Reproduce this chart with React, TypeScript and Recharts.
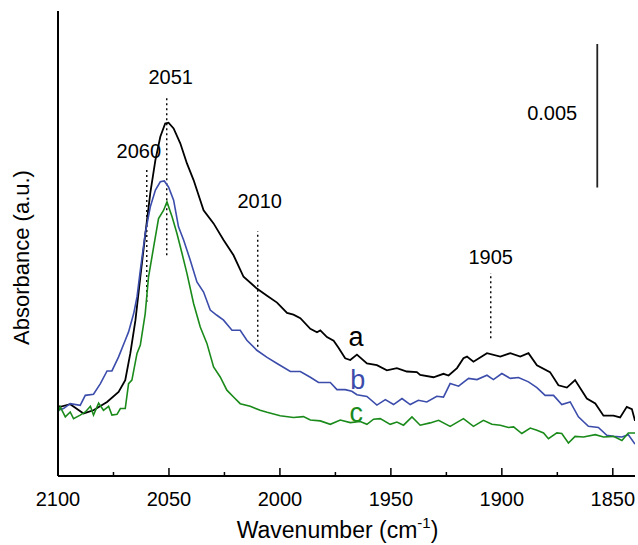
import React from 'react';
import { LineChart, Line, XAxis, YAxis, ReferenceLine, ReferenceDot } from 'recharts';

// Spectra: wavenumber (cm-1) and absorbance in units of 1e-3
const waveA = [
  2100, 2099.0, 2094.5, 2088.5, 2084.0, 2077.9, 2072.7, 2069.7, 2067.4, 2065.1,
  2062.9, 2060.6, 2058.4, 2056.1, 2053.9, 2051.7, 2050.2, 2047.9, 2044.9, 2041.9,
  2038.9, 2034.4, 2029.9, 2025.4, 2020.9, 2016.4, 2010.4, 2005.8, 2001.3, 1996.8,
  1993.9, 1990.8, 1986.3, 1983.3, 1981.8, 1978.8, 1975.8, 1973.6, 1970.6, 1968.3,
  1965.3, 1960.8, 1956.3, 1951.8, 1947.3, 1942.8, 1938.3, 1936.8, 1930.8, 1926.3,
  1924.0, 1920.2, 1917.3, 1915.7, 1912.8, 1906.7, 1900.7, 1896.2, 1891.7, 1888.0,
  1884.2, 1878.3, 1874.5, 1870.7, 1867.0, 1861.7, 1857.9, 1854.2, 1849.7, 1846.7,
  1843.7, 1841.4, 1840,
];
const absA = [
  2.45, 2.41, 2.50, 2.18, 2.29, 2.58, 2.93, 3.34, 4.28, 5.43,
  6.94, 8.46, 9.86, 11.01, 11.82, 12.28, 12.31, 12.11, 11.59, 10.89,
  10.31, 9.26, 8.80, 8.22, 7.69, 6.94, 6.53, 6.28, 6.04, 5.68,
  5.62, 5.50, 5.13, 5.01, 5.07, 4.84, 4.71, 4.47, 4.10, 4.04,
  4.23, 3.92, 3.86, 3.68, 3.76, 3.64, 3.62, 3.52, 3.44, 3.56,
  3.50, 3.76, 4.10, 4.16, 3.98, 4.28, 4.16, 4.28, 4.16, 4.28,
  3.86, 3.62, 3.16, 3.08, 3.34, 2.70, 2.53, 2.10, 2.10, 2.04,
  2.41, 2.33, 1.92,
];

const waveB = [
  2100, 2097.5, 2094.5, 2090.0, 2087.7, 2084.0, 2080.9, 2077.9, 2075.7, 2072.7,
  2069.7, 2068.2, 2065.9, 2064.4, 2062.9, 2060.7, 2058.4, 2056.1, 2053.9, 2052.1,
  2050.2, 2047.9, 2045.7, 2043.4, 2040.4, 2037.4, 2034.4, 2031.4, 2028.4, 2025.4,
  2021.6, 2017.9, 2014.9, 2010.4, 2005.8, 2001.3, 1995.3, 1990.8, 1986.3, 1982.6,
  1977.3, 1974.3, 1970.6, 1967.6, 1965.3, 1960.8, 1956.3, 1952.5, 1948.8, 1945.0,
  1941.3, 1937.6, 1933.8, 1929.3, 1926.3, 1923.3, 1919.5, 1915.0, 1911.2, 1906.7,
  1903.8, 1900.0, 1896.2, 1892.5, 1888.0, 1884.2, 1880.5, 1876.7, 1873.0, 1869.2,
  1865.5, 1861.0, 1856.5, 1852.7, 1849.7, 1845.9, 1843.0, 1840,
];
const absB = [
  2.29, 2.35, 2.52, 2.46, 2.81, 2.85, 3.22, 3.66, 3.66, 4.15,
  4.73, 5.02, 5.66, 6.24, 7.17, 8.45, 9.38, 9.96, 10.25, 10.28,
  10.07, 9.61, 8.68, 8.22, 7.52, 6.76, 6.41, 5.78, 5.60, 5.43,
  5.08, 5.08, 4.73, 4.38, 4.13, 3.92, 3.64, 3.64, 3.44, 3.26,
  3.26, 3.01, 3.01, 2.95, 2.83, 2.77, 2.47, 2.66, 2.49, 2.70,
  2.49, 2.64, 2.58, 2.78, 2.75, 3.22, 3.13, 3.40, 3.36, 3.51,
  3.36, 3.57, 3.40, 3.43, 3.28, 3.08, 2.81, 2.81, 2.49, 2.58,
  2.06, 1.73, 1.69, 1.42, 1.38, 1.36, 1.44, 1.11,
];

const waveC = [
  2100, 2099.0, 2096.7, 2094.5, 2093.0, 2090.0, 2087.7, 2085.4, 2084.0, 2081.7,
  2079.5, 2077.2, 2075.7, 2073.4, 2071.9, 2069.7, 2068.2, 2066.7, 2064.4, 2062.9,
  2060.7, 2059.2, 2056.9, 2054.7, 2052.4, 2050.9, 2048.6, 2046.4, 2044.1, 2041.9,
  2038.9, 2035.9, 2032.9, 2029.9, 2026.9, 2023.9, 2020.9, 2017.9, 2013.4, 2008.9,
  2005.8, 1999.9, 1993.9, 1989.4, 1986.3, 1981.8, 1977.3, 1972.8, 1968.3, 1963.8,
  1960.8, 1957.8, 1954.8, 1950.3, 1947.3, 1944.3, 1940.5, 1936.8, 1932.3, 1928.5,
  1923.3, 1917.3, 1912.8, 1908.3, 1904.5, 1900.7, 1897.0, 1894.7, 1891.0, 1887.2,
  1884.2, 1881.2, 1879.0, 1875.2, 1873.0, 1870.0, 1867.0, 1863.2, 1857.9, 1854.2,
  1849.7, 1845.9, 1843.0, 1840,
];
const absC = [
  2.22, 2.41, 2.06, 2.23, 2.00, 2.12, 2.23, 2.43, 2.12, 2.54,
  2.29, 2.43, 2.12, 2.15, 2.35, 2.35, 3.22, 3.34, 4.27, 4.56,
  5.66, 6.94, 7.98, 8.97, 9.26, 9.55, 9.03, 8.45, 7.75, 7.06,
  6.01, 5.19, 4.62, 3.80, 3.45, 2.99, 2.75, 2.52, 2.43, 2.29,
  2.22, 2.10, 2.04, 2.07, 1.95, 1.92, 1.80, 1.95, 1.86, 1.90,
  1.80, 1.98, 2.00, 1.80, 1.88, 1.77, 2.06, 1.77, 1.85, 1.94,
  1.73, 2.00, 1.73, 1.94, 1.80, 1.77, 1.69, 1.71, 1.48, 1.67,
  1.59, 1.50, 1.30, 1.50, 1.48, 1.15, 1.38, 1.36, 1.44, 1.36,
  1.38, 1.24, 1.50, 1.50,
];

// axis ticks
const xTicks = [2100, 2075, 2050, 2025, 2000, 1975, 1950, 1925, 1900, 1875, 1850];
const rightTicks = [5.4, 10.8];

// marked band positions (cm-1)
const peakWaves = [2060, 2051, 2010, 1905];

const FONT = '"Liberation Sans", Arial, Helvetica, sans-serif';
const BLUE = '#3b4cab';
const GREEN = '#1a8a1a';

const toPoints = (wave: number[], abs: number[]) => wave.map((wn, i) => ({ wn, abs: abs[i] }));
const seriesA = toPoints(waveA, absA);
const seriesB = toPoints(waveB, absB);
const seriesC = toPoints(waveC, absC);

// vertical span of each dotted marker and where its number sits
const markerStyle: Record<number, { from: number; to: number; dx: number; gap: number }> = {
  2060: { from: 6.06, to: 10.76, dx: -8, gap: 9 },
  2051: { from: 7.69, to: 13.2, dx: 4, gap: 13 },
  2010: { from: 4.5, to: 8.53, dx: 2, gap: 23 },
  1905: { from: 4.8, to: 7.07, dx: 0, gap: 9 },
};

const XTick = (props: any) => {
  const { x, y, payload } = props;
  const major = payload.value % 50 === 0;
  return (
    <g>
      <line x1={x} x2={x} y1={y} y2={y - (major ? 8 : 4)} stroke="#000" strokeWidth={1.5} />
      {major && (
        <text x={x} y={y + 30} textAnchor="middle" fontSize={20} fontFamily={FONT} fill="#000">
          {payload.value}
        </text>
      )}
    </g>
  );
};

const RightTick = (props: any) => {
  const { x, y } = props;
  return <line x1={x} x2={x + 3} y1={y} y2={y} stroke="#000" strokeWidth={1.5} />;
};

const XTitle = (props: any) => {
  const vb = props.viewBox;
  const cx = vb && vb.width ? vb.x + vb.width / 2 : 346;
  const top = vb && vb.width ? vb.y : 476;
  return (
    <text x={cx - 9} y={top + 62} textAnchor="middle" fontSize={23} fontFamily={FONT} fill="#000">
      Wavenumber (cm
      <tspan fontSize={15} dy={-10}>-1</tspan>
      <tspan dy={10}>)</tspan>
    </text>
  );
};

const YTitle = (props: any) => {
  const vb = props.viewBox;
  const cy = vb && vb.height ? vb.y + vb.height / 2 + 14 : 257;
  const bx = 29;
  return (
    <text
      x={bx}
      y={cy}
      transform={`rotate(-90, ${bx}, ${cy})`}
      textAnchor="middle"
      fontSize={22}
      fontFamily={FONT}
      fill="#000"
    >
      Absorbance (a.u.)
    </text>
  );
};

const PeakLabel = (props: any) => {
  const vb = props.viewBox || {};
  return (
    <text
      x={(vb.x ?? 0) + props.dx}
      y={(vb.y ?? 0) - props.gap}
      textAnchor="middle"
      fontSize={20}
      fontFamily={FONT}
      fill="#000"
    >
      {props.text}
    </text>
  );
};

const letter = (text: string, color: string, size: number) => (p: any) => (
  <text x={p.cx} y={p.cy} textAnchor="middle" fontSize={size} fontFamily={FONT} fill={color}>
    {text}
  </text>
);

const App: React.FC = () => {
  return (
    <div style={{ position: 'absolute', left: 0, top: 0 }}>
      <LineChart width={638} height={545} margin={{ top: 11, right: 3, bottom: 0, left: 0 }}>
        <XAxis
          dataKey="wn"
          type="number"
          domain={[1840, 2100]}
          reversed
          allowDataOverflow
          ticks={xTicks}
          interval={0}
          tickSize={0}
          tickMargin={0}
          tickLine={false}
          tick={<XTick />}
          height={69}
          axisLine={{ stroke: '#000', strokeWidth: 2 }}
          label={<XTitle />}
        />
        <XAxis
          xAxisId="top"
          orientation="top"
          type="number"
          domain={[1840, 2100]}
          reversed
          tick={false}
          tickLine={false}
          height={0}
          axisLine={{ stroke: '#000', strokeWidth: 2 }}
        />
        <YAxis
          type="number"
          domain={[0, 16.2]}
          allowDataOverflow
          tick={false}
          tickLine={false}
          width={58}
          axisLine={{ stroke: '#000', strokeWidth: 2 }}
          label={<YTitle />}
        />
        <YAxis
          yAxisId="right"
          orientation="right"
          type="number"
          domain={[0, 16.2]}
          ticks={rightTicks}
          interval={0}
          tickSize={0}
          tickMargin={0}
          tickLine={false}
          tick={<RightTick />}
          width={0}
          axisLine={{ stroke: '#000', strokeWidth: 2 }}
        />

        {peakWaves.map((wn) => {
          const m = markerStyle[wn];
          return (
            <ReferenceLine
              key={wn}
              segment={[
                { x: wn, y: m.from },
                { x: wn, y: m.to },
              ]}
              stroke="#000"
              strokeWidth={1.4}
              strokeDasharray="2 3"
              label={<PeakLabel text={String(wn)} dx={m.dx} gap={m.gap} />}
            />
          );
        })}

        {/* 0.005 absorbance scale bar */}
        <ReferenceLine
          segment={[
            { x: 1857, y: 10.05 },
            { x: 1857, y: 15.05 },
          ]}
          stroke="#222"
          strokeWidth={1.8}
        />
        <ReferenceDot x={1877.3} y={12.4} r={0} shape={letter('0.005', '#000', 20)} />

        <Line data={seriesA} dataKey="abs" stroke="#000" strokeWidth={1.8} dot={false} isAnimationActive={false} />
        <Line data={seriesB} dataKey="abs" stroke={BLUE} strokeWidth={1.6} dot={false} isAnimationActive={false} />
        <Line data={seriesC} dataKey="abs" stroke={GREEN} strokeWidth={1.6} dot={false} isAnimationActive={false} />

        <ReferenceDot x={1965.7} y={4.52} r={0} shape={letter('a', '#000', 27)} />
        <ReferenceDot x={1964.9} y={3.02} r={0} shape={letter('b', BLUE, 27)} />
        <ReferenceDot x={1965.6} y={1.87} r={0} shape={letter('c', GREEN, 27)} />
      </LineChart>
    </div>
  );
};

export default App;
